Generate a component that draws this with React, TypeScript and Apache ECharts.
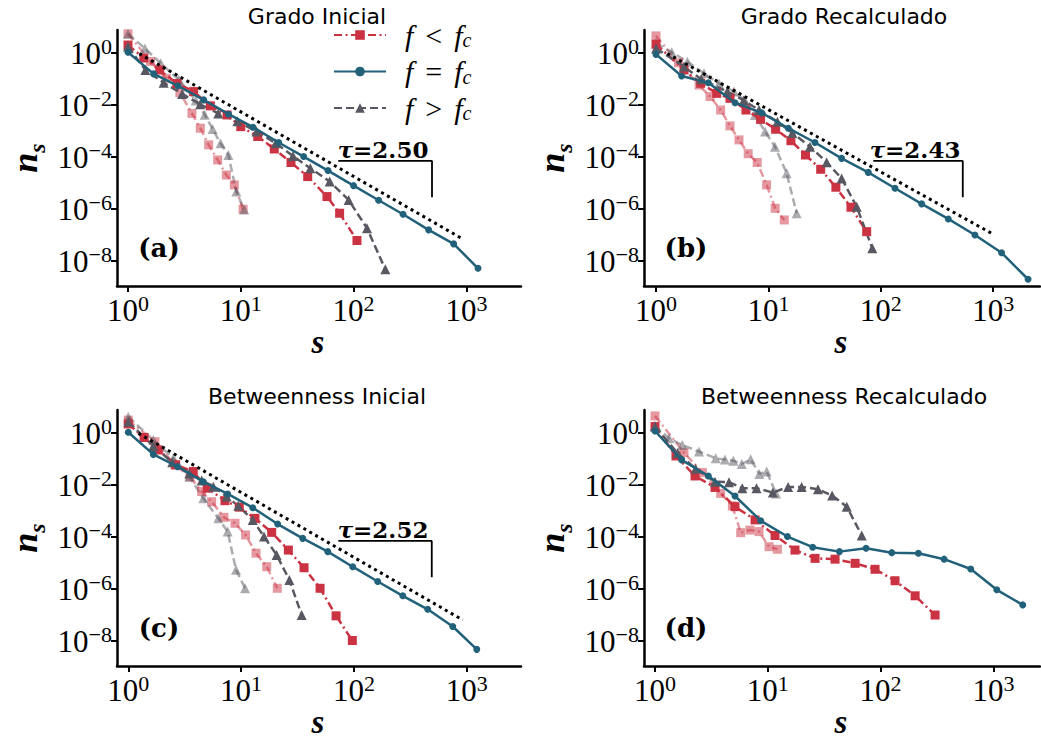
import React, { useEffect, useRef } from 'react';
import * as echarts from 'echarts';

// ---------- data (log10 s, log10 n_s) ----------
// Panel (a) Grado Inicial
const aLowX = [0, 0.2, 0.34, 0.46, 0.567, 0.641, 0.715, 0.795, 0.872, 0.943, 1.02];
const aLowY = [0.71, -0.35, -1.0, -1.55, -2.35, -2.92, -3.56, -4.14, -4.72, -5.1, -6.04];
const aHighX = [0, 0.15, 0.29, 0.45, 0.6, 0.68, 0.75, 0.82, 0.89, 0.96, 1.03];
const aHighY = [0.71, 0.15, -0.42, -1.05, -1.85, -2.4, -2.95, -3.5, -3.95, -5.35, -6.05];
const aRedX = [0, 0.14, 0.281, 0.434, 0.582, 0.73, 0.878, 1.0, 1.15, 1.297, 1.445, 1.593, 1.764, 1.876, 2.03];
const aRedY = [0.28, -0.22, -0.68, -1.2, -1.51, -2.06, -2.41, -2.86, -3.24, -3.72, -4.24, -4.78, -5.55, -6.19, -7.24];
const aGrayX = [0, 0.154, 0.316, 0.48, 0.64, 0.8, 0.97, 1.14, 1.31, 1.463, 1.616, 1.788, 1.956, 2.119, 2.281];
const aGrayY = [0.22, -0.68, -1.17, -1.6, -2.0, -2.35, -2.65, -3.05, -3.5, -3.99, -4.46, -4.97, -5.68, -6.77, -8.35];
const aMidX = [0, 0.228, 0.443, 0.671, 0.892, 1.108, 1.336, 1.557, 1.773, 2.0, 2.222, 2.438, 2.665, 2.887, 3.103];
const aMidY = [0, -0.83, -1.29, -1.83, -2.38, -2.88, -3.47, -4.01, -4.55, -5.13, -5.69, -6.23, -6.83, -7.37, -8.31];
const aFitX = [0.1, 2.975];
const aFitY = [-0.05, -7.2];
const aBracketX = [1.864, 2.695, 2.695];

// Panel (b) Grado Recalculado
const bLowX = [0, 0.2, 0.383, 0.48, 0.575, 0.658, 0.738, 0.82, 0.9, 0.984, 1.06, 1.141];
const bLowY = [0.63, -0.4, -1.26, -1.7, -2.22, -2.83, -3.37, -3.9, -4.24, -5.1, -6.0, -6.45];
const bHighX = [0, 0.14, 0.279, 0.427, 0.56, 0.694, 0.79, 0.88, 0.97, 1.058, 1.162, 1.251];
const bHighY = [0.35, 0.0, -0.36, -0.81, -1.2, -1.51, -1.85, -2.41, -3.05, -3.63, -4.65, -6.19];
const bRedX = [0, 0.249, 0.397, 0.54, 0.658, 0.8, 0.93, 1.064, 1.2, 1.33, 1.465, 1.6, 1.734, 1.874];
const bRedY = [0.31, -0.68, -1.19, -1.58, -1.77, -2.22, -2.58, -2.96, -3.4, -3.95, -4.5, -5.19, -5.96, -6.9];
const bGrayX = [0, 0.249, 0.403, 0.634, 0.78, 0.916, 1.08, 1.213, 1.37, 1.518, 1.651, 1.785, 1.924];
const bGrayY = [0.15, -0.55, -1.04, -1.51, -1.85, -2.22, -2.67, -3.1, -3.63, -4.23, -4.85, -5.94, -7.54];
const bMidX = [0, 0.228, 0.465, 0.703, 0.94, 1.177, 1.414, 1.651, 1.888, 2.126, 2.363, 2.6, 2.837, 3.074, 3.31];
const bMidY = [-0.08, -0.91, -1.17, -1.94, -2.33, -2.92, -3.47, -4.08, -4.62, -5.23, -5.83, -6.41, -7.03, -7.71, -8.73];
const bFitX = [0.1, 3.0];
const bFitY = [-0.05, -7.0];
const bBracketX = [1.933, 2.729, 2.729];

// Panel (c) Betweenness Inicial
const cLowX = [0, 0.236, 0.414, 0.547, 0.65, 0.739, 0.848, 0.946, 1.04, 1.132, 1.227, 1.321];
const cLowY = [0.47, -0.36, -1.26, -1.71, -2.28, -2.67, -3.27, -3.5, -3.95, -4.65, -5.17, -6.0];
const cHighX = [0, 0.222, 0.4, 0.541, 0.665, 0.798, 0.881, 0.955, 1.035];
const cHighY = [0.6, -0.3, -1.0, -1.71, -2.54, -3.31, -3.82, -5.29, -6.0];
const cRedX = [0, 0.14, 0.266, 0.42, 0.576, 0.7, 0.857, 0.984, 1.123, 1.271, 1.419, 1.558, 1.7, 1.842, 1.986];
const cRedY = [0.32, -0.2, -0.68, -1.25, -1.51, -2.15, -2.63, -2.88, -3.31, -3.85, -4.53, -5.21, -6.0, -7.06, -8.01];
const cGrayX = [0, 0.222, 0.39, 0.541, 0.65, 0.754, 0.872, 0.975, 1.103, 1.203, 1.315, 1.428, 1.537];
const cGrayY = [0.41, -0.53, -1.15, -1.58, -1.85, -2.09, -2.47, -2.83, -3.37, -4.01, -4.72, -5.68, -7.03];
const cMidX = [0, 0.222, 0.437, 0.665, 0.881, 1.103, 1.324, 1.546, 1.768, 1.989, 2.211, 2.433, 2.654, 2.876, 3.089];
const cMidY = [0, -0.85, -1.32, -1.9, -2.37, -2.9, -3.53, -4.08, -4.59, -5.17, -5.74, -6.29, -6.81, -7.47, -8.35];
const cFitX = [0.09, 2.965];
const cFitY = [-0.04, -7.22];
const cBracketX = [1.862, 2.69, 2.69];

// Panel (d) Betweenness Recalculado
const dLowX = [0, 0.257, 0.42, 0.582, 0.686, 0.76, 0.842, 0.922, 1.011, 1.085];
const dLowY = [0.63, -0.78, -1.55, -2.35, -2.83, -3.86, -3.76, -3.82, -4.4, -4.5];
const dHighX = [0, 0.124, 0.242, 0.39, 0.538, 0.62, 0.695, 0.769, 0.848, 0.925, 0.99, 1.073];
const dHighY = [0.25, -0.23, -0.49, -0.74, -1.0, -1.05, -1.09, -1.22, -1.04, -1.6, -1.51, -2.35];
const dRedX = [0, 0.186, 0.355, 0.532, 0.709, 0.887, 1.064, 1.241, 1.419, 1.596, 1.774, 1.951, 2.128, 2.306, 2.483];
const dRedY = [0.22, -0.91, -1.68, -2.12, -2.86, -3.37, -3.97, -4.53, -4.85, -4.88, -5.04, -5.27, -5.71, -6.29, -7.03];
const dGrayX = [0, 0.2, 0.36, 0.532, 0.656, 0.774, 0.9, 1.045, 1.18, 1.3, 1.445, 1.57, 1.7, 1.833];
const dGrayY = [0.22, -0.8, -1.4, -1.9, -1.92, -2.15, -2.15, -2.32, -2.1, -2.1, -2.19, -2.43, -2.86, -3.97];
const dMidX = [0, 0.236, 0.473, 0.709, 0.937, 1.174, 1.398, 1.635, 1.871, 2.099, 2.335, 2.563, 2.799, 3.03, 3.26];
const dMidY = [0.05, -1.06, -1.68, -2.45, -3.4, -4.01, -4.42, -4.59, -4.46, -4.63, -4.65, -4.88, -5.26, -6.06, -6.64];

const bracketY = [-4.18, -4.18, -5.58];
const tauValues = ['2.50', '2.43', '2.52'];
const titles = ['Grado Inicial', 'Grado Recalculado', 'Betweenness Inicial', 'Betweenness Recalculado'];
const panelLetters = ['(a)', '(b)', '(c)', '(d)'];
const xTicks = [0, 1, 2, 3];
const yTicks = [0, -2, -4, -6, -8];
const legendNames = ['f < fc', 'f = fc', 'f > fc'];

// ---------- styling ----------
const RED = '#cb3242';
const BLUE = '#22617a';
const GRAY = '#585862';
const SERIF = 'Liberation Serif';

const layout = [
  { left: 117, top: 30, width: 404, height: 256, xMin: -0.0975, xMax: 3.484 },
  { left: 644, top: 30, width: 396, height: 256, xMin: -0.107, xMax: 3.416 },
  { left: 117, top: 410, width: 404, height: 256, xMin: -0.1, xMax: 3.481 },
  { left: 644, top: 410, width: 396, height: 256, xMin: -0.0975, xMax: 3.413 },
];
const Y_MIN = -8.99;
const Y_MAX = 0.858;

const pts = (xs: number[], ys: number[]) => xs.map((x, i) => [x, ys[i]]);

const panels = [
  { low: [aLowX, aLowY], high: [aHighX, aHighY], red: [aRedX, aRedY], gray: [aGrayX, aGrayY], mid: [aMidX, aMidY], fit: [aFitX, aFitY], br: aBracketX },
  { low: [bLowX, bLowY], high: [bHighX, bHighY], red: [bRedX, bRedY], gray: [bGrayX, bGrayY], mid: [bMidX, bMidY], fit: [bFitX, bFitY], br: bBracketX },
  { low: [cLowX, cLowY], high: [cHighX, cHighY], red: [cRedX, cRedY], gray: [cGrayX, cGrayY], mid: [cMidX, cMidY], fit: [cFitX, cFitY], br: cBracketX },
  { low: [dLowX, dLowY], high: [dHighX, dHighY], red: [dRedX, dRedY], gray: [dGrayX, dGrayY], mid: [dMidX, dMidY], fit: null, br: null },
];

const DASHDOT = [8, 3.5, 2, 3.5];
const DASHED = [8, 4];

function tickFmt(v: number) {
  const e = v < 0 ? '\u2212' + Math.abs(v) : String(v);
  return `{b|10}{s|${e}}`;
}
const tickRich = {
  b: { fontFamily: SERIF, fontSize: 31, color: '#000', lineHeight: 34, verticalAlign: 'bottom' },
  s: { fontFamily: SERIF, fontSize: 22, color: '#000', lineHeight: 22, verticalAlign: 'top' },
};

export default function App() {
  const ref = useRef<HTMLDivElement>(null);
  useEffect(() => {
    const chart = echarts.init(ref.current as HTMLDivElement, null, { renderer: 'svg' });
    const grid: any[] = [];
    const xAxis: any[] = [];
    const yAxis: any[] = [];
    const series: any[] = [];
    const graphic: any[] = [];

    layout.forEach((L, i) => {
      grid.push({ left: L.left, top: L.top, width: L.width, height: L.height, containLabel: false });
      xAxis.push({
        type: 'value', gridIndex: i, min: L.xMin, max: L.xMax,
        axisLine: { show: true, onZero: false, lineStyle: { color: '#000', width: 2.5 } },
        axisTick: { show: true, customValues: xTicks, length: 6, lineStyle: { color: '#000', width: 2 } },
        axisLabel: { show: true, customValues: xTicks, formatter: tickFmt, rich: tickRich, margin: 6 },
        splitLine: { show: false },
      });
      yAxis.push({
        type: 'value', gridIndex: i, min: Y_MIN, max: Y_MAX,
        axisLine: { show: true, onZero: false, lineStyle: { color: '#000', width: 2.5 } },
        axisTick: { show: true, customValues: yTicks, length: 6, lineStyle: { color: '#000', width: 2 } },
        axisLabel: { show: true, customValues: yTicks, formatter: tickFmt, rich: tickRich, margin: 5 },
        splitLine: { show: false },
      });

      const P = panels[i];
      const mk = (name: string, d: number[][], color: string, op: number, dash: any, symbol: string, size: number, z: number) => ({
        type: 'line', name, xAxisIndex: i, yAxisIndex: i, data: pts(d[0], d[1]),
        symbol, symbolSize: size, showSymbol: true, z,
        lineStyle: { color, width: 2.5, type: dash, opacity: op },
        itemStyle: { color, opacity: op },
        emphasis: { disabled: true },
      });
      series.push(mk('low' + i, P.low, RED, 0.5, DASHDOT, 'rect', 9, 2));
      series.push(mk('high' + i, P.high, GRAY, 0.5, DASHED, 'triangle', 10, 2));
      series.push(mk(legendNames[0], P.red, RED, 1, DASHDOT, 'rect', 9, 3));
      series.push(mk(legendNames[2], P.gray, GRAY, 1, DASHED, 'triangle', 10, 3));
      series.push(mk(legendNames[1], P.mid, BLUE, 1, 'solid', 'circle', 7, 4));
      if (P.fit) {
        series.push({
          type: 'line', name: 'fit' + i, xAxisIndex: i, yAxisIndex: i, data: pts(P.fit[0], P.fit[1]),
          symbol: 'none', z: 5, lineStyle: { color: '#000', width: 3, type: [3, 3.8], cap: 'butt' },
        });
      }
      if (P.br) {
        series.push({
          type: 'line', name: 'br' + i, xAxisIndex: i, yAxisIndex: i, data: pts(P.br, bracketY),
          symbol: 'none', z: 5, lineStyle: { color: '#000', width: 1.8 },
        });
      }

      const cx = L.left + L.width / 2;
      graphic.push({
        type: 'text', x: cx + (i % 2 === 0 ? -2 : 2), y: L.top - 14,
        style: { text: titles[i], font: '22px "DejaVu Sans"', fill: '#000', align: 'center', verticalAlign: 'middle', textAlign: 'center', textVerticalAlign: 'middle' },
      });
      graphic.push({
        type: 'text', x: L.left + 42, y: L.top + 218,
        style: { text: panelLetters[i], font: 'bold 26px "DejaVu Serif"', fill: '#000', align: 'center', verticalAlign: 'middle', textAlign: 'center', textVerticalAlign: 'middle' },
      });
      graphic.push({
        type: 'text', x: L.left - 89, y: L.top + 128, rotation: Math.PI / 2,
        style: {
          text: '{n|n}{s|s}', align: 'center', verticalAlign: 'middle', textAlign: 'center', textVerticalAlign: 'middle',
          rich: {
            n: { fontFamily: SERIF, fontStyle: 'italic', fontWeight: 'bold', fontSize: 36, lineHeight: 42, verticalAlign: 'top', fill: '#000' },
            s: { fontFamily: SERIF, fontStyle: 'italic', fontWeight: 'bold', fontSize: 24, lineHeight: 24, verticalAlign: 'bottom', fill: '#000' },
          },
        },
      });
      graphic.push({
        type: 'text', x: cx - 1, y: L.top + L.height + 56,
        style: { text: 's', font: 'italic bold 33px "Liberation Serif"', fill: '#000', align: 'center', verticalAlign: 'middle', textAlign: 'center', textVerticalAlign: 'middle' },
      });
      if (i < 3) {
        const tx = i === 1 ? 915 : 383;
        graphic.push({
          type: 'text', x: tx, y: L.top + 119,
          style: {
            text: `{t|\u03c4}{n|=${tauValues[i]}}`, align: 'center', verticalAlign: 'middle', textAlign: 'center', textVerticalAlign: 'middle',
            rich: {
              t: { fontFamily: 'DejaVu Serif', fontStyle: 'italic', fontWeight: 'bold', fontSize: 23, fill: '#000' },
              n: { fontFamily: 'DejaVu Serif', fontWeight: 'bold', fontSize: 23, fill: '#000' },
            },
          },
        });
      }
    });

    const option: any = {
      animation: false,
      backgroundColor: '#fff',
      grid, xAxis, yAxis, series, graphic,
      legend: {
        data: legendNames, orient: 'vertical', left: 328, top: 15,
        itemWidth: 52, itemHeight: 12, itemGap: 6.5,
        formatter: (name: string) => {
          const op = name.indexOf('<') >= 0 ? '<' : name.indexOf('>') >= 0 ? '>' : '=';
          return `{i|f}{o|${op}}{i|f}{c|c}`;
        },
        textStyle: {
          padding: [0, 0, 0, 14],
          rich: {
            i: { fontFamily: SERIF, fontStyle: 'italic', fontSize: 30, color: '#000', lineHeight: 30, verticalAlign: 'top' },
            o: { fontFamily: SERIF, fontSize: 30, color: '#000', lineHeight: 30, verticalAlign: 'top', padding: [0, 12, 0, 12] },
            c: { fontFamily: SERIF, fontStyle: 'italic', fontSize: 20, color: '#000', lineHeight: 20, verticalAlign: 'bottom' },
          },
        },
        selectedMode: false,
      },
    };
    chart.setOption(option);
    return () => chart.dispose();
  }, []);
  return <div ref={ref} style={{ position: 'absolute', left: 0, top: 0, width: 1041, height: 742, background: '#fff' }} />;
}
